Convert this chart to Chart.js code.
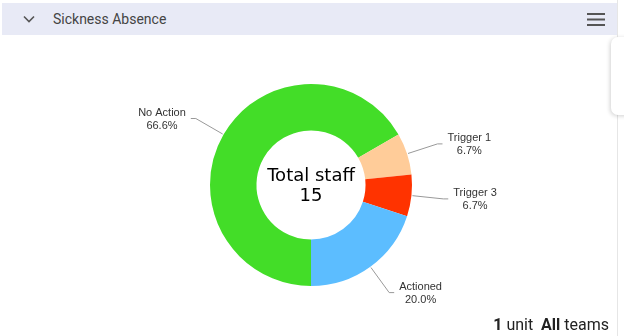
<!DOCTYPE html>
<html>
<head>
<meta charset="utf-8">
<script src="https://cdn.jsdelivr.net/npm/chart.js@4.4.0/dist/chart.umd.min.js"></script>
<style>
  html, body { margin: 0; padding: 0; background: #fff; width: 624px; height: 336px; overflow: hidden; }
  #panel { position: absolute; left: 0; top: 0; width: 617px; height: 336px; border-right: 1px solid #e6e6e6; }
  #header { position: absolute; left: 2px; top: 3px; width: 615px; height: 32px; background: #e8eaf6; }
  #title { position: absolute; left: 51px; top: 0; font: 14px Roboto, sans-serif; line-height: 32px; color: #444; }
  #chev { position: absolute; left: 20px; top: 11px; }
  #burger { position: absolute; left: 584px; top: 9px; }
  #card { position: absolute; left: 611px; top: 37px; width: 30px; height: 78px; background: #fff;
          border-radius: 7px; box-shadow: -1px 1px 4px rgba(0,0,0,0.18); }
  #chart { position: absolute; left: 0; top: 35px; }
  #footer { position: absolute; right: 8px; top: 315px; font: 16px Roboto, sans-serif; color: #222; }
  #footer b { font-weight: 700; }
</style>
</head>
<body>
<div id="panel">
  <div id="header">
    <svg id="chev" width="14" height="10" viewBox="0 0 14 10">
      <polyline points="2,2.5 7,7.5 12,2.5" fill="none" stroke="#555" stroke-width="1.6"/>
    </svg>
    <div id="title">Sickness Absence</div>
    <svg id="burger" width="20" height="16" viewBox="0 0 20 16">
      <rect x="1" y="1" width="18" height="2" fill="#555"/>
      <rect x="1" y="6.5" width="18" height="2" fill="#555"/>
      <rect x="1" y="12" width="18" height="2" fill="#555"/>
    </svg>
  </div>
  <canvas id="chart" width="622" height="300"></canvas>
  <div id="footer"><b>1</b> unit&nbsp;&nbsp;<b>All</b> teams</div>
</div>
<div id="card"></div>

<script>
var categories = ["No Action", "Trigger 1", "Trigger 3", "Actioned"];
var staffCounts = [10, 1, 1, 3];
var pctLabels = ["66.6%", "6.7%", "6.7%", "20.0%"];
var sliceColors = ["#43dd28", "#ffcc99", "#ff3300", "#5cbdff"];
var centerLines = ["Total staff", "15"];

var pieLabels = {
    id: "pieLabels",
    afterDatasetsDraw: function(chart){
        var ctx = chart.ctx;
        var meta = chart.getDatasetMeta(0);
        ctx.save();
        ctx.font = "11px 'Liberation Sans', Arial, sans-serif";
        ctx.textBaseline = "middle";
        ctx.textAlign = "center";
        meta.data.forEach(function(arc, i){
            var p = arc.getProps(["x", "y", "startAngle", "endAngle", "outerRadius"], true);
            var mid = (p.startAngle + p.endAngle) / 2;
            var c = Math.cos(mid), s = Math.sin(mid);
            var r = p.outerRadius;
            var x0 = p.x + c * (r + 1), y0 = p.y + s * (r + 1);
            var x1 = p.x + c * (r + 32), y1 = p.y + s * (r + 32);
            var side = c >= 0 ? 1 : -1;
            var x2 = x1 + side * 5;
            ctx.strokeStyle = "#999";
            ctx.lineWidth = 1;
            ctx.beginPath();
            ctx.moveTo(x0, y0);
            ctx.lineTo(x1, y1);
            ctx.lineTo(x2, y1);
            ctx.stroke();
            var lines = [categories[i], pctLabels[i]];
            var w = Math.max(ctx.measureText(lines[0]).width, ctx.measureText(lines[1]).width);
            var left = side > 0 ? x2 + 5 : x2 - 5 - w;
            ctx.fillStyle = "#333";
            ctx.fillText(lines[0], left + w / 2, y1 - 5.5);
            ctx.fillText(lines[1], left + w / 2, y1 + 7);
        });
        ctx.restore();
    },
    afterDraw: function(chart){
        var ctx = chart.ctx;
        var arc = chart.getDatasetMeta(0).data[0];
        ctx.save();
        ctx.font = "18px 'DejaVu Sans', sans-serif";
        ctx.fillStyle = "#000";
        ctx.textAlign = "center";
        ctx.textBaseline = "middle";
        ctx.fillText(centerLines[0], arc.x, arc.y - 9);
        ctx.fillText(centerLines[1], arc.x, arc.y + 11);
        ctx.restore();
    }
};

new Chart(document.getElementById("chart"), {
    type: "doughnut",
    data: {
        labels: categories,
        datasets: [{
            data: staffCounts,
            backgroundColor: sliceColors,
            borderWidth: 0
        }]
    },
    options: {
        responsive: false,
        animation: false,
        events: [],
        rotation: 180,
        cutout: "54%",
        layout: { padding: 49 },
        plugins: {
            legend: { display: false },
            tooltip: { enabled: false }
        }
    },
    plugins: [pieLabels]
});
</script>
</body>
</html>
